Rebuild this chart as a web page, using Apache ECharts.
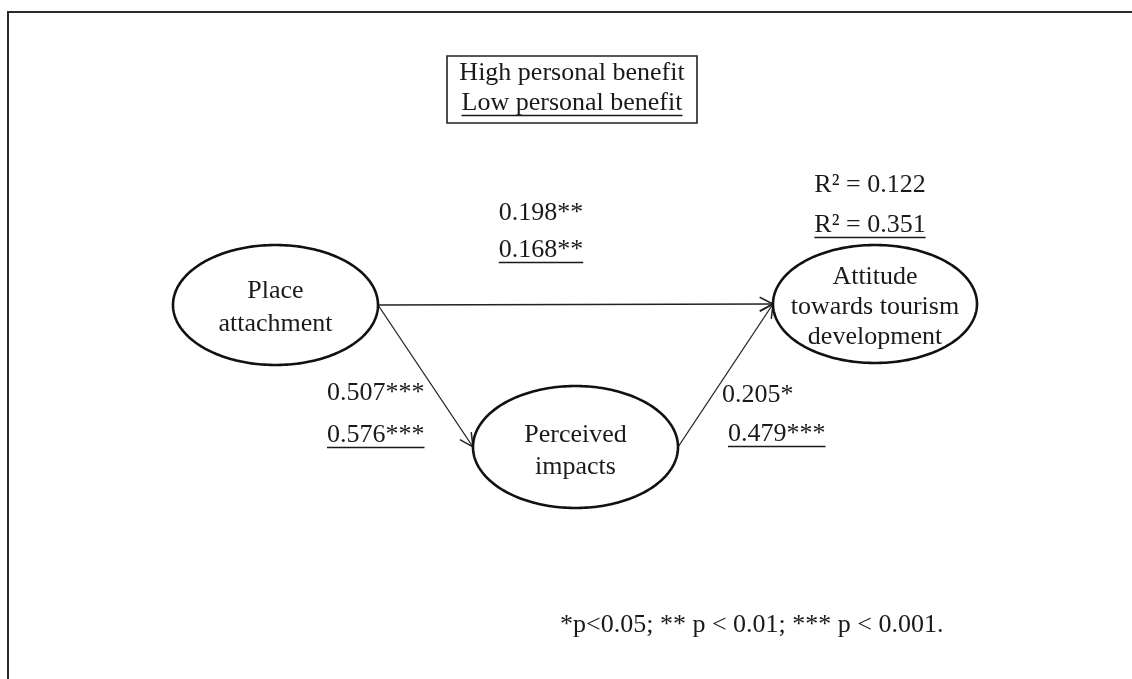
<!DOCTYPE html>
<html><head><meta charset="utf-8">
<script src="https://cdn.jsdelivr.net/npm/echarts@6/dist/echarts.min.js"></script>
<style>html,body{margin:0;padding:0;background:#fff}#c{width:1132px;height:679px}</style>
</head><body><div id="c"></div>
<script>
// ---------- data ----------
const groups = ['High personal benefit', 'Low personal benefit'];
const nodeNames = ['Place\nattachment', 'Perceived\nimpacts', 'Attitude\ntowards tourism\ndevelopment'];
const pathFrom = [0, 0, 1];
const pathTo = [2, 1, 2];
const coefHigh = ['0.198**', '0.507***', '0.205*'];
const coefLow = ['0.168**', '0.576***', '0.479***'];
const r2High = '0.122';
const r2Low = '0.351';
const footnote = '*p<0.05; ** p < 0.01; *** p < 0.001.';

// ---------- layout (diagram geometry, not data) ----------
const W = 1132, H = 679;
const nodeGeom = [
  {cx: 275.5, cy: 305, rx: 102.5, ry: 60, lh: 33, dy: 3},
  {cx: 575.5, cy: 447, rx: 102.5, ry: 61, lh: 32, dy: 4},
  {cx: 875,   cy: 304, rx: 102,   ry: 59, lh: 30, dy: 3}
];
const coefPos = [
  {x: 541, y: 213, align: 'center', gap: 37},
  {x: 327, y: 393, align: 'left', gap: 42},
  {x: 722, y: 395, align: 'left', gap: 39}
];
const coefPosLowX = [541, 327, 728];
const r2Pos = {x: 870, y: 185, gap: 40};
const legendBox = {x: 447, y: 56, w: 250, h: 67, ty: 73, gap: 30};
const footPos = {x: 560, y: 625};

const FONT = '26px "Liberation Serif", "Times New Roman", serif';
const INK = '#1a1a1a';
const mctx = document.createElement('canvas').getContext('2d');
function tw(t) { mctx.font = FONT; return mctx.measureText(t).width; }

function textEls(t, x, y, align, underline) {
  const els = [{type: 'text', style: {text: t, x: x, y: y, font: FONT, fill: INK, align: align, verticalAlign: 'middle'}}];
  if (underline) {
    const w = tw(t);
    const x0 = align === 'center' ? x - w / 2 : (align === 'right' ? x - w : x);
    els.push({type: 'line', shape: {x1: x0, y1: y + 12.5, x2: x0 + w, y2: y + 12.5}, style: {stroke: INK, lineWidth: 1.5}});
  }
  return els;
}

function ellipsePts(api, g) {
  const pts = [];
  for (let k = 0; k < 240; k++) {
    const a = k / 240 * Math.PI * 2;
    pts.push(api.coord([g.cx + g.rx * Math.cos(a), g.cy + g.ry * Math.sin(a)]));
  }
  return pts;
}

const chart = echarts.init(document.getElementById('c'));

const option = {
  animation: false,
  backgroundColor: '#fff',
  grid: {left: 0, right: 0, top: 0, bottom: 0},
  xAxis: {type: 'value', min: 0, max: W, show: false},
  yAxis: {type: 'value', min: 0, max: H, inverse: true, show: false},
  graphic: [
    {type: 'rect', shape: {x: 8, y: 12, width: 1300, height: 900}, style: {fill: 'none', stroke: '#2a2a2a', lineWidth: 2}, silent: true}
  ],
  series: [
    // paths (arrows)
    {
      type: 'custom', coordinateSystem: 'cartesian2d', clip: false, silent: true, z: 2,
      data: pathFrom.map((f, i) => [i, 0]),
      renderItem: function (params, api) {
        const i = params.dataIndex;
        const s = nodeGeom[pathFrom[i]], d = nodeGeom[pathTo[i]];
        const p0 = api.coord([s.cx + s.rx, s.cy]);
        const p1 = api.coord([d.cx - d.rx, d.cy]);
        const dx = p1[0] - p0[0], dy = p1[1] - p0[1];
        const len = Math.hypot(dx, dy), ux = dx / len, uy = dy / len;
        const L = 15, ang = 27 * Math.PI / 180;
        const c = Math.cos(ang), sn = Math.sin(ang);
        const a1 = [p1[0] - L * (ux * c - uy * sn), p1[1] - L * (uy * c + ux * sn)];
        const a2 = [p1[0] - L * (ux * c + uy * sn), p1[1] - L * (uy * c - ux * sn)];
        return {type: 'group', children: [
          {type: 'line', shape: {x1: p0[0], y1: p0[1], x2: p1[0], y2: p1[1]}, style: {stroke: '#222', lineWidth: 1.3}},
          {type: 'polyline', shape: {points: [a1, p1, a2]}, style: {stroke: '#222', lineWidth: 1.5, fill: null}}
        ]};
      }
    },
    // nodes (ellipses)
    {
      type: 'custom', coordinateSystem: 'cartesian2d', clip: false, silent: true, z: 3,
      data: nodeNames.map((n, i) => [i, 0]),
      renderItem: function (params, api) {
        const i = params.dataIndex, g = nodeGeom[i];
        const c = api.coord([g.cx, g.cy]);
        return {type: 'group', children: [
          {type: 'polygon', shape: {points: ellipsePts(api, g)}, style: {fill: '#fff', stroke: '#111', lineWidth: 2.6}},
          {type: 'text', style: {text: nodeNames[i], x: c[0], y: c[1] + g.dy, font: FONT, fill: INK, align: 'center', verticalAlign: 'middle', lineHeight: g.lh}}
        ]};
      }
    },
    // path coefficients
    {
      type: 'custom', coordinateSystem: 'cartesian2d', clip: false, silent: true, z: 4,
      data: coefHigh.map((v, i) => [i, 0]),
      renderItem: function (params, api) {
        const i = params.dataIndex, p = coefPos[i];
        const c = api.coord([p.x, p.y]);
        const c2 = api.coord([coefPosLowX[i], p.y + p.gap]);
        return {type: 'group', children:
          textEls(coefHigh[i], c[0], c[1], p.align, false).concat(textEls(coefLow[i], c2[0], c2[1], p.align, true))
        };
      }
    },
    // R squared + legend + footnote
    {
      type: 'custom', coordinateSystem: 'cartesian2d', clip: false, silent: true, z: 4,
      data: [[0, 0]],
      renderItem: function (params, api) {
        const r = api.coord([r2Pos.x, r2Pos.y]);
        const lb = api.coord([legendBox.x, legendBox.y]);
        const lt = api.coord([legendBox.x + legendBox.w / 2, legendBox.ty]);
        const f = api.coord([footPos.x, footPos.y]);
        let ch = [];
        ch = ch.concat(textEls('R\u00b2 = ' + r2High, r[0], r[1], 'center', false));
        ch = ch.concat(textEls('R\u00b2 = ' + r2Low, r[0], r[1] + r2Pos.gap, 'center', true));
        ch.push({type: 'rect', shape: {x: lb[0], y: lb[1], width: legendBox.w, height: legendBox.h}, style: {fill: 'none', stroke: '#222', lineWidth: 1.6}});
        ch = ch.concat(textEls(groups[0], lt[0], lt[1], 'center', false));
        ch = ch.concat(textEls(groups[1], lt[0], lt[1] + legendBox.gap, 'center', true));
        ch = ch.concat(textEls(footnote, f[0], f[1], 'left', false));
        return {type: 'group', children: ch};
      }
    }
  ]
};
chart.setOption(option);
</script>
</body></html>
